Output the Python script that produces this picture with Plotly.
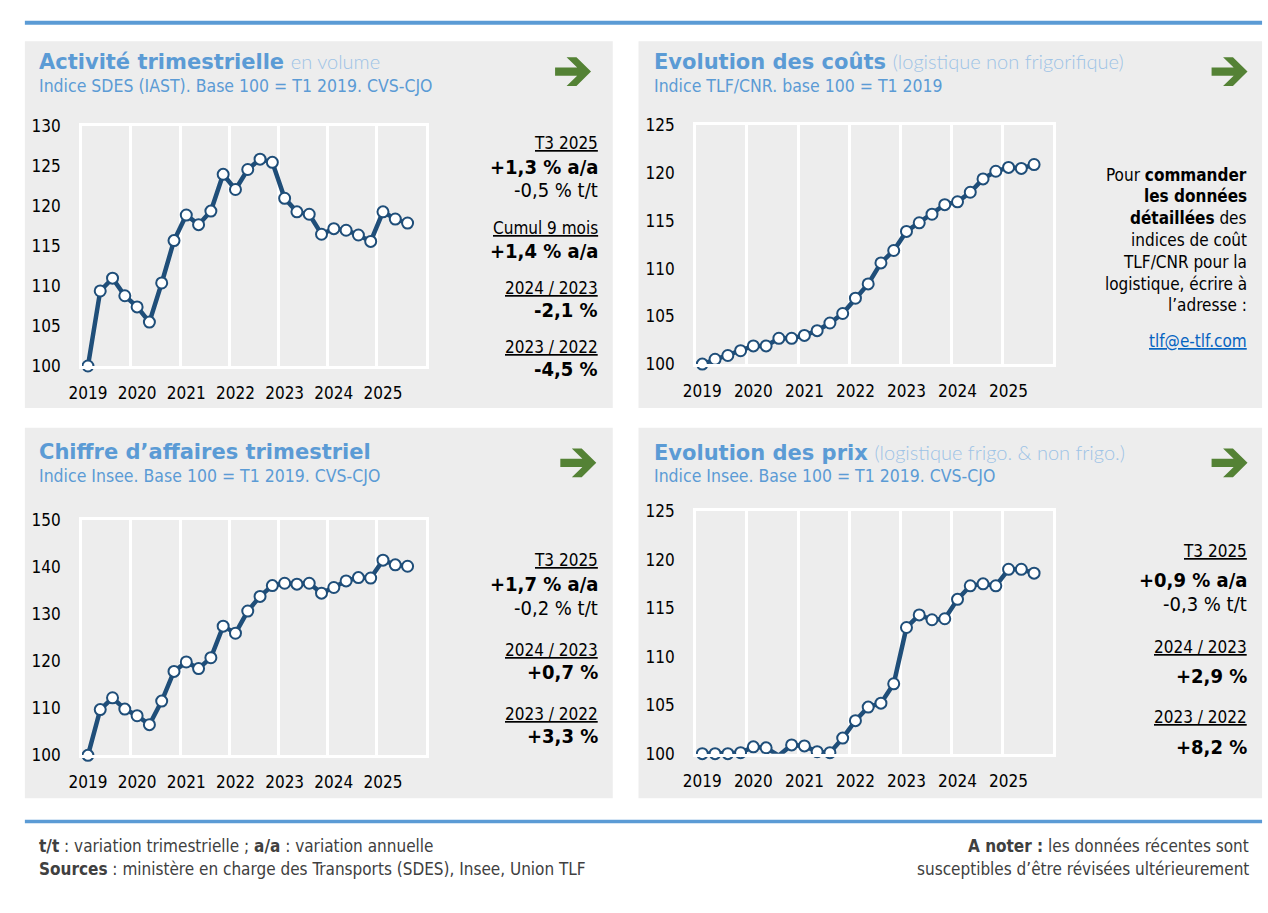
import plotly.graph_objects as go

# ---------------- data ----------------
quarters = ["T1 2019", "T2 2019", "T3 2019", "T4 2019",
            "T1 2020", "T2 2020", "T3 2020", "T4 2020",
            "T1 2021", "T2 2021", "T3 2021", "T4 2021",
            "T1 2022", "T2 2022", "T3 2022", "T4 2022",
            "T1 2023", "T2 2023", "T3 2023", "T4 2023",
            "T1 2024", "T2 2024", "T3 2024", "T4 2024",
            "T1 2025", "T2 2025", "T3 2025"]

activite = [100.0, 109.4, 111.0, 108.8, 107.4, 105.5, 110.4, 115.7,
            118.9, 117.7, 119.4, 124.0, 122.1, 124.6, 125.9, 125.5,
            121.0, 119.3, 119.0, 116.5, 117.2, 117.0, 116.4, 115.6,
            119.3, 118.4, 117.9]

couts = [100.0, 100.5, 100.9, 101.4, 101.9, 101.9, 102.7, 102.7,
         103.0, 103.5, 104.3, 105.3, 106.9, 108.4, 110.6, 111.9,
         113.9, 114.8, 115.7, 116.7, 117.0, 118.0, 119.4, 120.2,
         120.6, 120.5, 120.9]

chiffre_affaires = [100.0, 109.7, 112.2, 109.8, 108.4, 106.5, 111.5, 117.8,
                    119.8, 118.4, 120.7, 127.4, 125.9, 130.6, 133.7, 136.0,
                    136.5, 136.3, 136.5, 134.4, 135.6, 137.0, 137.7, 137.6,
                    141.4, 140.4, 140.1]

prix = [100.0, 100.0, 100.0, 100.1, 100.7, 100.6, 99.8, 100.9,
        100.8, 100.2, 100.1, 101.6, 103.4, 104.8, 105.2, 107.2,
        113.0, 114.3, 113.8, 113.9, 115.9, 117.3, 117.5, 117.3,
        119.0, 119.0, 118.6]

# ---------------- styling helpers ----------------
W, H = 1268, 913
N_SLOTS = 28  # chart range runs through T4 2025

def fx(p):
    return p / W

def fy(p):
    return 1 - p / H

TITLE_BLUE = "#5B9BD5"
LIGHT_BLUE = "#9DC3E6"
LINE = "#1F4E79"
PANEL = "#EDEDED"
GREEN = "#548235"
FONT = "DejaVu Sans Condensed, DejaVu Sans, sans-serif"
TFONT = "DejaVu Sans, sans-serif"

fig = go.Figure()
shapes = []
annotations = []

# top and bottom separators
shapes.append(dict(type="rect", xref="paper", yref="paper", x0=fx(12), x1=fx(1262),
                   y0=fy(11), y1=fy(15), fillcolor=TITLE_BLUE, line=dict(width=0), layer="below"))
shapes.append(dict(type="rect", xref="paper", yref="paper", x0=fx(12), x1=fx(1262),
                   y0=fy(828), y1=fy(831.5), fillcolor=TITLE_BLUE, line=dict(width=0), layer="below"))


def arrow(xl, yc):
    pts = [(xl, yc - 4.2), (xl + 22.3, yc - 4.2), (xl + 11.6, yc - 14.7), (xl + 21.6, yc - 14.7),
           (xl + 36.3, yc), (xl + 21.6, yc + 14.7), (xl + 11.6, yc + 14.7), (xl + 22.3, yc + 4.2),
           (xl, yc + 4.2)]
    path = "M" + " L".join(f"{fx(a):.5f},{fy(b):.5f}" for a, b in pts) + " Z"
    return dict(type="path", xref="paper", yref="paper", path=path, fillcolor=GREEN,
                line=dict(width=0), layer="above")


def ann(x, y, text, size, anchor="right", color="#000000", family=FONT, weight=None):
    f = dict(family=family, size=size, color=color)
    if weight is not None:
        f["weight"] = weight
    return dict(xref="paper", yref="paper", x=fx(x), y=fy(y), text=text, showarrow=False,
                xanchor=anchor, yanchor="middle", align=anchor, font=f)


panels = [
    dict(name="Activité", series=activite, box=(12, 32, 606, 407), frame=(69.5, 119, 417.3, 364),
         yr=(100, 130), dy=5, title="Activité trimestrielle", title2="en volume",
         sub="Indice SDES (IAST). Base 100 = T1 2019. CVS-CJO", tx=24.6, ty=53, sy=77.5,
         arrow=(547.7, 63),
         notes=[("<u>T3 2025</u>", 135.5, False), ("+1,3 % a/a", 161, True), ("-0,5 % t/t", 184, False),
                ("<u>Cumul 9 mois</u>", 223, False), ("+1,4 % a/a", 246, True),
                ("<u>2024 / 2023</u>", 284, False), ("-2,1 %", 307, True),
                ("<u>2023 / 2022</u>", 345, False), ("-4,5 %", 367, True)], nx=593),
    dict(name="Coûts", series=couts, box=(632, 32, 1262, 407), frame=(690, 118, 1051, 362),
         yr=(100, 125), dy=5, title="Evolution des coûts", title2="(logistique non frigorifique)",
         sub="Indice TLF/CNR. base 100 = T1 2019", tx=646, ty=53, sy=77.5,
         arrow=(1211, 63), notes=[], nx=1249),
    dict(name="CA", series=chiffre_affaires, box=(12, 427, 606, 806), frame=(69.5, 521, 417.3, 762),
         yr=(100, 150), dy=10, title="Chiffre d’affaires trimestriel", title2="",
         sub="Indice Insee. Base 100 = T1 2019. CVS-CJO", tx=24.6, ty=452, sy=476,
         arrow=(553, 463),
         notes=[("<u>T3 2025</u>", 562.7, False), ("+1,7 % a/a", 587.3, True), ("-0,2 % t/t", 611.7, False),
                ("<u>2024 / 2023</u>", 654, False), ("+0,7 %", 677.3, True),
                ("<u>2023 / 2022</u>", 720, False), ("+3,3 %", 742.3, True)], nx=593),
    dict(name="Prix", series=prix, box=(632, 427, 1262, 806), frame=(690, 512.3, 1051, 760.3),
         yr=(100, 125), dy=5, title="Evolution des prix", title2="(logistique frigo. &amp; non frigo.)",
         sub="Indice Insee. Base 100 = T1 2019. CVS-CJO", tx=646, ty=452, sy=476,
         arrow=(1211, 463),
         notes=[("<u>T3 2025</u>", 552.7, False), ("+0,9 % a/a", 582.7, True), ("-0,3 % t/t", 607.7, False),
                ("<u>2024 / 2023</u>", 651, False), ("+2,9 %", 681, True),
                ("<u>2023 / 2022</u>", 722.7, False), ("+8,2 %", 753.3, True)], nx=1249),
]

xidx = list(range(len(quarters)))
tickvals = [i for i, q in enumerate(quarters) if q.startswith("T1")]
ticktext = [quarters[i].split()[1] for i in tickvals]
minor_vals = [i - 0.5 for i in tickvals if i > 0]

layout_axes = {}
for k, p in enumerate(panels, start=1):
    xa = "x" if k == 1 else f"x{k}"
    ya = "y" if k == 1 else f"y{k}"
    xkey = "xaxis" if k == 1 else f"xaxis{k}"
    ykey = "yaxis" if k == 1 else f"yaxis{k}"
    l, t, r, b = p["frame"]
    y0, y1 = p["yr"]
    vals = p["series"]
    fig.add_trace(go.Scatter(
        x=xidx, y=vals, xaxis=xa, yaxis=ya, mode="lines+markers", name=p["name"],
        text=quarters, hovertemplate="%{text}: %{y:.1f}<extra></extra>",
        line=dict(color=LINE, width=4.5),
        marker=dict(symbol="circle", size=11, color="white",
                    opacity=[1 if v >= y0 else 0 for v in vals],
                    line=dict(color=LINE, width=2)),
        cliponaxis=False, showlegend=False))
    layout_axes[xkey] = dict(
        domain=[fx(l), fx(r)], anchor=ya, range=[-0.5, N_SLOTS - 0.5],
        tickmode="array", tickvals=tickvals, ticktext=ticktext,
        showgrid=False, zeroline=False, showline=True, linecolor="white", linewidth=2.5, mirror=True,
        ticks="outside", ticklen=10, tickcolor="rgba(0,0,0,0)",
        tickfont=dict(family=FONT, size=17, color="#000000"),
        minor=dict(tickmode="array", tickvals=minor_vals, showgrid=True, gridcolor="white",
                   gridwidth=2.5, ticks=""),
        fixedrange=True)
    layout_axes[ykey] = dict(
        domain=[fy(b), fy(t)], anchor=xa, range=[y0, y1],
        tickmode="array", tickvals=list(range(y0, y1 + 1, p["dy"])),
        showgrid=False, zeroline=False, showline=True, linecolor="white", linewidth=2.5, mirror=True,
        ticks="outside", ticklen=15, tickcolor="rgba(0,0,0,0)",
        tickfont=dict(family=FONT, size=17, color="#000000"),
        fixedrange=True)

    bx0, by0, bx1, by1 = p["box"]
    shapes.insert(0, dict(type="rect", xref="paper", yref="paper", x0=fx(bx0), x1=fx(bx1),
                          y0=fy(by0), y1=fy(by1), fillcolor=PANEL, line=dict(width=0), layer="below"))
    shapes.append(arrow(*p["arrow"]))

    ttl = f"<b>{p['title']}</b>"
    if p["title2"]:
        ttl += (f" <span style=\"font-family:Lato, sans-serif;font-weight:300;font-size:20px;"
                f"color:{LIGHT_BLUE}\">{p['title2']}</span>")
    annotations.append(ann(p["tx"], p["ty"], ttl, 21, anchor="left", color=TITLE_BLUE,
                           family=TFONT))
    annotations.append(ann(p["tx"], p["sy"], p["sub"], 17.5, anchor="left", color=TITLE_BLUE))

    for txt, yy, bold in p["notes"]:
        if bold:
            annotations.append(ann(p["nx"], yy, f"<b>{txt}</b>", 20))
        else:
            annotations.append(ann(p["nx"], yy, txt, 17 if txt.startswith("<u>") else 20))

# text block in the costs panel
order_lines = [("Pour <b>commander</b>", 168.3), ("<b>les données</b>", 190.5),
               ("<b>détaillées</b> des", 213), ("indices de coût", 235),
               ("TLF/CNR pour la", 257.5), ("logistique, écrire à", 280), ("l’adresse :", 301.7)]
for txt, yy in order_lines:
    annotations.append(ann(1249, yy, txt, 17))
annotations.append(ann(1249, 338.3, "<u>tlf@e-tlf.com</u>", 17, color="#0563C1"))

# footer
FOOT = "#404040"
annotations.append(ann(24, 855, "<b>t/t</b> : variation trimestrielle ; <b>a/a</b> : variation annuelle",
                       17, anchor="left", color=FOOT))
annotations.append(ann(24, 878, "<b>Sources</b> : ministère en charge des Transports (SDES), Insee, Union TLF",
                       17, anchor="left", color=FOOT))
annotations.append(ann(1251, 855, "<b>A noter :</b> les données récentes sont", 17, color=FOOT))
annotations.append(ann(1251, 878, "susceptibles d’être révisées ultérieurement", 17, color=FOOT))

fig.update_layout(
    width=W, height=H, margin=dict(l=0, r=0, t=0, b=0),
    paper_bgcolor="white", plot_bgcolor="rgba(0,0,0,0)",
    shapes=shapes, annotations=annotations, showlegend=False,
    font=dict(family=FONT, color="#000000"),
    **layout_axes)

fig.write_html(
    "out.html", config={"displayModeBar": False, "responsive": False},
    post_script=("var s=document.createElement('style');"
                 "s.innerHTML='html,body{margin:0!important;padding:0;overflow:hidden;}';"
                 "document.head.appendChild(s);"))
